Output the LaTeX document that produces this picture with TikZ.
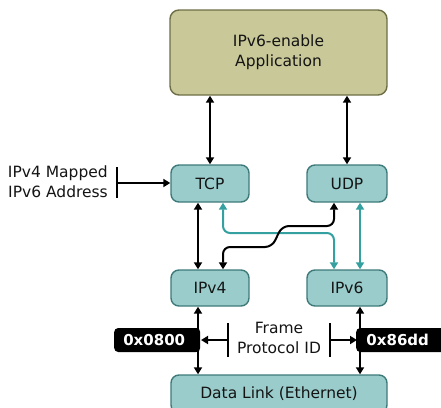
\documentclass[tikz,border=0pt]{standalone}
\usepackage{fontspec}
\setmainfont{DejaVu Sans}
\usetikzlibrary{arrows.meta,calc}
\definecolor{olivefill}{RGB}{200,200,152}
\definecolor{oliveline}{RGB}{110,110,70}
\definecolor{tealfill}{RGB}{154,204,204}
\definecolor{tealline}{RGB}{62,122,122}
\definecolor{tealarrow}{RGB}{52,160,160}
\definecolor{txt}{RGB}{20,20,20}
\tikzset{
  appbox/.style={draw=oliveline, fill=olivefill, line width=1.4pt, rounded corners=9pt,
    minimum width=217pt, minimum height=85pt, align=center, text=txt,
    font=\fontsize{15.5}{20}\selectfont, inner sep=0pt},
  protobox/.style={draw=tealline, fill=tealfill, line width=1.4pt, rounded corners=8pt,
    minimum height=37pt, align=center, text=txt,
    font=\fontsize{15.5}{20}\selectfont, inner sep=0pt},
  lbl/.style={text=txt, font=\fontsize{15.5}{20}\selectfont, inner sep=0pt},
  hexlbl/.style={fill=black, text=white, rounded corners=4pt, inner sep=0pt,
    font=\fontsize{15}{20}\selectfont\bfseries, minimum height=24pt},
  barrow/.style={draw=black, line width=2pt, {Triangle[length=7pt,width=8pt]}-{Triangle[length=7pt,width=8pt]}},
  sarrow/.style={draw=black, line width=2pt, -{Triangle[length=7pt,width=8pt]}},
  tarrow/.style={draw=tealarrow, line width=2pt, {Triangle[length=7pt,width=8pt]}-{Triangle[length=7pt,width=8pt]}},
  bar/.style={draw=black, line width=1.6pt},
}
\begin{document}
\begin{tikzpicture}[x=1pt,y=-1pt]
\useasboundingbox (0,0) rectangle (441,407);
\clip (0,0) rectangle (441,407);
% boxes
\node[appbox] (app) at (278.5,52.5) {IPv6-enable\\Application};
\node[protobox, minimum width=78pt] (tcp) at (210,183.5) {TCP};
\node[protobox, minimum width=80pt] (udp) at (347,183.5) {UDP};
\node[protobox, minimum width=78pt, minimum height=36pt] (ipv4) at (210,288) {IPv4};
\node[protobox, minimum width=80pt, minimum height=36pt] (ipv6) at (347,288) {IPv6};
\node[protobox, minimum width=216pt, minimum height=38pt] (dl) at (279,394) {Data Link (Ethernet)};
% hex labels
\node[hexlbl, minimum width=86pt, anchor=west] (h4) at (114,340) {\hspace*{-6pt}0x0800};
\node[hexlbl, minimum width=95pt, anchor=west] (h6) at (356,340) {\hspace*{-12pt}0x86dd};
% text labels
\node[lbl, align=right, anchor=east] (mapped) at (108,182) {IPv4 Mapped\\IPv6 Address};
\node[lbl, align=center] (fpid) at (279,338) {Frame\\Protocol ID};
% helper coordinates
\coordinate (xa) at (198,0);
\coordinate (xb) at (223,0);
\coordinate (xc) at (334,0);
\coordinate (xd) at (360,0);
\coordinate (ya) at (0,233);
\coordinate (yb) at (0,247);
\coordinate (yc) at (0,226);
\coordinate (jog1) at (272,247);
\coordinate (jog2) at (282,226);
% app connectors
\draw[barrow] (app.south -| tcp) -- (tcp.north);
\draw[barrow] (app.south -| udp) -- (udp.north);
% TCP - IPv4
\draw[barrow] (tcp.south -| xa) -- (ipv4.north -| xa);
% teal TCP - IPv6
\draw[tarrow, rounded corners=7pt] (tcp.south -| xb) -- (ya -| xb) -- (ya -| xc) -- (ipv6.north -| xc);
% UDP - IPv6 teal
\draw[tarrow] (udp.south -| xd) -- (ipv6.north -| xd);
% black IPv4 - UDP
\draw[barrow, rounded corners=7pt] (ipv4.north -| xb) -- (yb -| xb) -- (jog1) -- (jog2) -- (yc -| xc) -- (udp.south -| xc);
% data link
\draw[barrow] (ipv4.south -| xa) -- (dl.north -| xa);
\draw[barrow] (ipv6.south -| xd) -- (dl.north -| xd);
% mapped address marker
\coordinate (mb1) at (117,167);
\coordinate (mb2) at (117,198);
\coordinate (mb) at (117,183);
\draw[bar] (mb1) -- (mb2);
\draw[sarrow] (mb) -- (tcp.west |- mb);
% frame protocol id markers
\coordinate (fl1) at (228,323);
\coordinate (fl2) at (228,357);
\coordinate (fl) at (228,340);
\coordinate (fr1) at (330,323);
\coordinate (fr2) at (330,357);
\coordinate (fr) at (330,340);
\draw[bar] (fl1) -- (fl2);
\draw[bar] (fr1) -- (fr2);
\draw[sarrow] (fl) -- ($(fl -| xa)+(3,0)$);
\draw[sarrow] (fr) -- ($(fr -| xd)+(-3,0)$);
\end{tikzpicture}
\end{document}
